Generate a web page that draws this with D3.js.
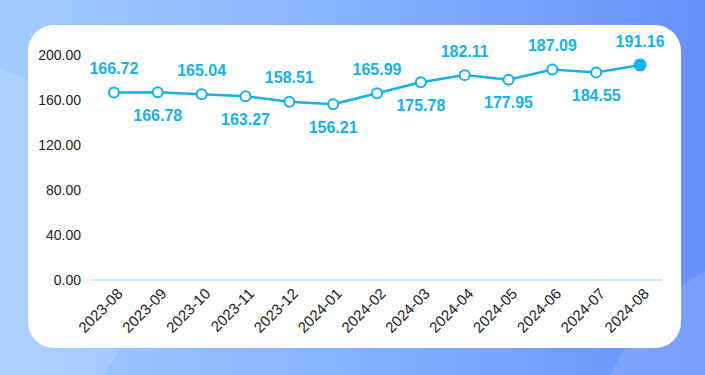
<!DOCTYPE html>
<html>
<head>
<meta charset="utf-8">
<script src="https://cdn.jsdelivr.net/npm/d3@7"></script>
<style>
  html, body { margin: 0; padding: 0; }
  #chart { width: 705px; height: 375px; }
</style>
</head>
<body>
<div id="chart"></div>
<script>
// chart data
const months = ["2023-08", "2023-09", "2023-10", "2023-11", "2023-12", "2024-01", "2024-02",
    "2024-03", "2024-04", "2024-05", "2024-06", "2024-07", "2024-08"];
const values = [166.72, 166.78, 165.04, 163.27, 158.51, 156.21, 165.99,
    175.78, 182.11, 177.95, 187.09, 184.55, 191.16];
const yTicks = [0, 40, 80, 120, 160, 200];

const width = 705, height = 375;
// plot area inside the card
const margin = {top: 55, right: 43, bottom: 95, left: 92};

let svg = d3.select("#chart")
    .append("svg")
    .attr("width", width)
    .attr("height", height);

// background gradient
let defs = svg.append("defs");
let grad = defs.append("linearGradient")
    .attr("id", "bg")
    .attr("x1", "0%").attr("y1", "0%")
    .attr("x2", "100%").attr("y2", "0%");
grad.append("stop").attr("offset", "0%").attr("stop-color", "#a4ccff");
grad.append("stop").attr("offset", "55%").attr("stop-color", "#84aefe");
grad.append("stop").attr("offset", "100%").attr("stop-color", "#6790fb");

svg.append("rect")
    .attr("width", width)
    .attr("height", height)
    .attr("fill", "url(#bg)");

// soft decorative shapes
svg.append("circle")
    .attr("cx", -60).attr("cy", 260).attr("r", 200)
    .attr("fill", "#ffffff").attr("opacity", 0.12);
svg.append("circle")
    .attr("cx", 820).attr("cy", 470).attr("r", 230)
    .attr("fill", "#ffffff").attr("opacity", 0.12);

// white card
svg.append("rect")
    .attr("x", 28).attr("y", 25)
    .attr("width", 653).attr("height", 323)
    .attr("rx", 26).attr("ry", 26)
    .attr("fill", "#ffffff");

const x = d3.scaleBand()
    .domain(months)
    .range([margin.left, width - margin.right]);

const y = d3.scaleLinear()
    .domain([0, 200])
    .range([height - margin.bottom, margin.top]);

const lineColor = "#13b2ee";

// y axis labels
svg.append("g")
    .selectAll("text")
    .data(yTicks)
    .join("text")
    .attr("x", 81)
    .attr("y", d => y(d))
    .attr("dy", "0.35em")
    .attr("text-anchor", "end")
    .attr("font-family", "Liberation Sans, Arial, sans-serif")
    .attr("font-size", 14)
    .attr("fill", "#222")
    .text(d => d.toFixed(2));

// baseline
svg.append("line")
    .attr("x1", margin.left).attr("x2", width - margin.right)
    .attr("y1", y(0)).attr("y2", y(0))
    .attr("stroke", "#c3d7fb")
    .attr("stroke-width", 1.5);

// x axis labels, rotated
svg.append("g")
    .selectAll("text")
    .data(months)
    .join("text")
    .attr("transform", d => "translate(" + (x(d) + x.bandwidth() / 2 + 6) + "," + (y(0) + 11) + ") rotate(-45)")
    .attr("text-anchor", "end")
    .attr("dy", "0.35em")
    .attr("font-family", "Liberation Sans, Arial, sans-serif")
    .attr("font-size", 15)
    .attr("fill", "#222")
    .text(d => d);

const pts = months.map((m, i) => ({m: m, v: values[i], i: i}));

// the line
let line = d3.line()
    .x(d => x(d.m) + x.bandwidth() / 2)
    .y(d => y(d.v));

svg.append("path")
    .datum(pts)
    .attr("d", line)
    .attr("fill", "none")
    .attr("stroke", lineColor)
    .attr("stroke-width", 2.5);

// markers, last one filled
svg.append("g")
    .selectAll("circle")
    .data(pts)
    .join("circle")
    .attr("cx", d => x(d.m) + x.bandwidth() / 2)
    .attr("cy", d => y(d.v))
    .attr("r", d => d.i === pts.length - 1 ? 5.5 : 5)
    .attr("fill", d => d.i === pts.length - 1 ? lineColor : "#ffffff")
    .attr("stroke", lineColor)
    .attr("stroke-width", 2);

// value labels, alternating above / below
svg.append("g")
    .selectAll("text")
    .data(pts)
    .join("text")
    .attr("x", d => x(d.m) + x.bandwidth() / 2)
    .attr("y", d => y(d.v) + (d.i % 2 === 0 ? -24 : 23))
    .attr("dy", "0.35em")
    .attr("text-anchor", "middle")
    .attr("font-family", "Liberation Sans, Arial, sans-serif")
    .attr("font-weight", "bold")
    .attr("font-size", 16)
    .attr("fill", lineColor)
    .text(d => d.v.toFixed(2));
</script>
</body>
</html>
